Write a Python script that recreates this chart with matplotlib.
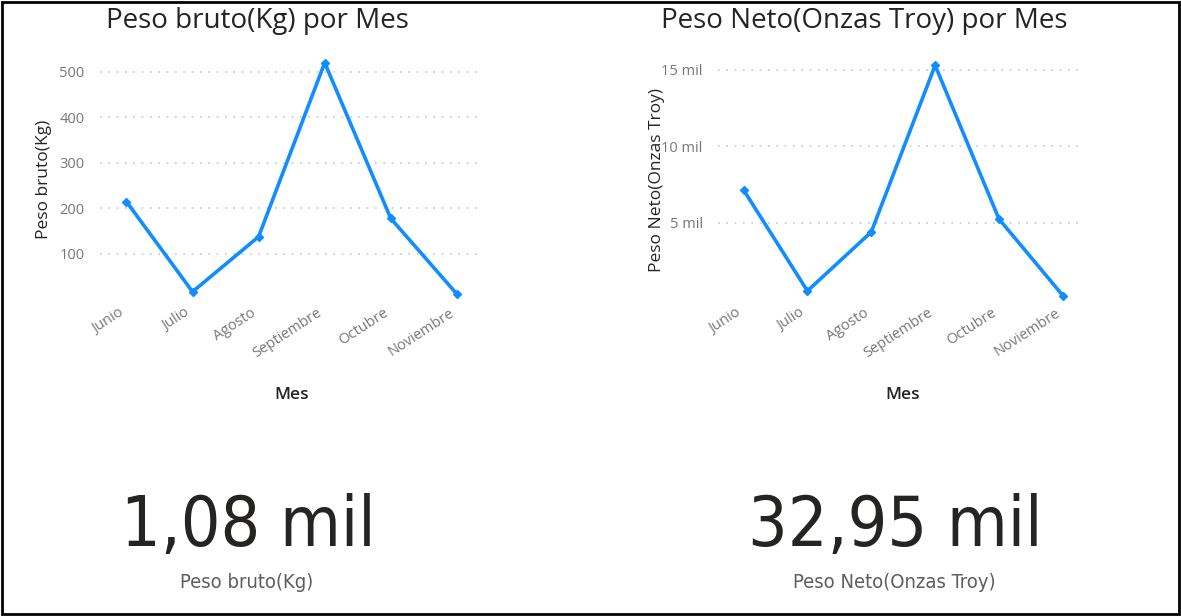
import matplotlib.pyplot as plt
from matplotlib.patches import Rectangle
from matplotlib.ticker import FuncFormatter
from matplotlib.transforms import ScaledTranslation

meses = ['Junio', 'Julio', 'Agosto', 'Septiembre', 'Octubre', 'Noviembre']
peso_bruto = [215, 17, 138, 520, 178, 12]
peso_neto = [7160, 560, 4410, 15300, 5260, 260]

total_bruto = '1,08 mil'
total_neto = '32,95 mil'

blue = '#118DFF'
dark = '#252423'
gray = '#777777'
W, H = 1181, 616

plt.rcParams['font.family'] = ['Open Sans', 'DejaVu Sans']

fig = plt.figure(figsize=(W / 100, H / 100), dpi=100)
fig.add_artist(Rectangle((0.002, 0.004), 0.996, 0.992, transform=fig.transFigure,
                         fill=False, edgecolor='black', linewidth=2))


def line_chart(ax, values, ylabel, ticks, fmt, ytop):
    x = range(len(values))
    ax.plot(x, values, color=blue, linewidth=2.6, marker='D', markersize=4.5,
            clip_on=False, zorder=3)
    ax.set_xlim(-0.4, 5.35)
    ax.set_ylim(0, ytop)
    ax.set_yticks(ticks)
    ax.yaxis.set_major_formatter(FuncFormatter(fmt))
    ax.set_xticks(list(x))
    ax.set_xticklabels([])
    # month labels drawn by hand so they can sit a bit left of the tick
    shift = ScaledTranslation(-8 / 100, -6 / 100, fig.dpi_scale_trans)
    for i, m in enumerate(meses):
        ax.text(i, 0, m, transform=ax.transData + shift, rotation=33,
                ha='right', va='top', rotation_mode='anchor',
                fontsize=10.5, color=gray)
    ax.tick_params(axis='y', length=0, pad=11, labelsize=10.5, labelcolor=gray)
    ax.tick_params(axis='x', length=0)
    ax.grid(axis='y', linestyle=(0, (1, 4)), color='#c8c8c8', linewidth=1.2)
    for s in ax.spines.values():
        s.set_visible(False)
    ax.set_ylabel(ylabel, fontsize=12.5, color=dark, fontweight='medium')
    ax.set_xlabel('Mes', fontsize=12.5, color=dark, fontweight='semibold')


ax1 = fig.add_axes([100 / W, 316.5 / H, 380 / W, 239.5 / H])
line_chart(ax1, peso_bruto, 'Peso bruto(Kg)', [100, 200, 300, 400, 500],
           lambda v, p: f'{v:.0f}', 526)
ax1.yaxis.set_label_coords(-0.126, 0.5)
ax1.xaxis.set_label_coords(0.505, -0.365)

ax2 = fig.add_axes([718 / W, 316.5 / H, 364 / W, 239.5 / H])
line_chart(ax2, peso_neto, 'Peso Neto(Onzas Troy)', [5000, 10000, 15000],
           lambda v, p: f'{v / 1000:.0f} mil', 15650)
ax2.set_xlim(-0.4, 5.3)
ax2.yaxis.set_label_coords(-0.146, 0.5)
ax2.xaxis.set_label_coords(0.508, -0.365)

fig.text(257 / W, 1 - 21 / H, 'Peso bruto(Kg) por Mes', ha='center', va='center',
         fontsize=20, color=dark)
fig.text(864 / W, 1 - 21 / H, 'Peso Neto(Onzas Troy) por Mes', ha='center', va='center',
         fontsize=20, color=dark)

big = ['Liberation Sans Narrow', 'DejaVu Sans']
fig.text(248 / W, 1 - 526 / H, total_bruto, ha='center', va='center', fontsize=50,
         color=dark, family=big, fontstretch='condensed')
fig.text(895 / W, 1 - 526 / H, total_neto, ha='center', va='center', fontsize=50,
         color=dark, family=big, fontstretch='condensed')
fig.text(247 / W, 1 - 582 / H, 'Peso bruto(Kg)', ha='center', va='center', fontsize=14.5,
         color='#605E5C', family=big, fontstretch='condensed')
fig.text(894 / W, 1 - 582 / H, 'Peso Neto(Onzas Troy)', ha='center', va='center',
         fontsize=14.5, color='#605E5C', family=big, fontstretch='condensed')

fig.savefig('out.png', dpi=100)
